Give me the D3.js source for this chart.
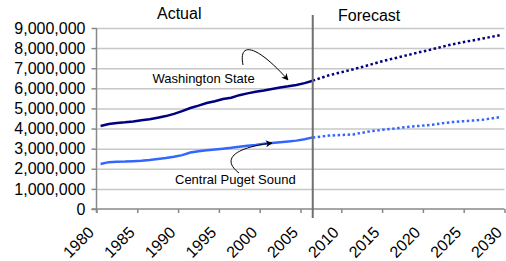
<!DOCTYPE html>
<html>
<head>
<meta charset="utf-8">
<script src="https://cdn.jsdelivr.net/npm/d3@7/dist/d3.min.js"></script>
<style>
body { margin: 0; background: #fff; }
svg { display: block; font-family: "Liberation Sans", Arial, sans-serif; }
</style>
</head>
<body>
<div id="chart-area"></div>
<script>
// Data (population)
var actualYears = [1980, 1981, 1982, 1983, 1984, 1985, 1986, 1987, 1988, 1989,
                   1990, 1991, 1992, 1993, 1994, 1995, 1996, 1997, 1998, 1999,
                   2000, 2001, 2002, 2003, 2004, 2005, 2006];
var forecastYears = [2006, 2007, 2008, 2009, 2010, 2011, 2012, 2013, 2014, 2015,
                     2016, 2017, 2018, 2019, 2020, 2021, 2022, 2023, 2024, 2025,
                     2026, 2027, 2028, 2029];

var waActual = [4130000, 4230000, 4280000, 4310000, 4350000, 4410000, 4460000, 4540000, 4620000, 4730000,
                4870000, 5020000, 5140000, 5270000, 5360000, 5470000, 5530000, 5660000, 5750000, 5830000,
                5890000, 5970000, 6040000, 6100000, 6170000, 6260000, 6380000];
var waForecast = [6380000, 6520000, 6650000, 6750000, 6850000, 6950000, 7060000, 7170000, 7290000, 7400000,
                  7490000, 7590000, 7690000, 7790000, 7880000, 7980000, 8080000, 8180000, 8260000, 8340000,
                  8410000, 8490000, 8570000, 8650000];

var cpsActual = [2240000, 2330000, 2350000, 2360000, 2380000, 2400000, 2440000, 2490000, 2540000, 2600000,
                 2680000, 2810000, 2870000, 2920000, 2960000, 3000000, 3040000, 3090000, 3140000, 3180000,
                 3240000, 3280000, 3320000, 3360000, 3400000, 3470000, 3560000];
var cpsForecast = [3560000, 3600000, 3650000, 3670000, 3690000, 3710000, 3790000, 3860000, 3910000, 3960000,
                   4000000, 4050000, 4090000, 4130000, 4170000, 4210000, 4270000, 4320000, 4350000, 4380000,
                   4410000, 4450000, 4510000, 4570000];

var yTicks = [0, 1000000, 2000000, 3000000, 4000000, 5000000, 6000000, 7000000, 8000000, 9000000];
var xTicks = [1980, 1985, 1990, 1995, 2000, 2005, 2010, 2015, 2020, 2025, 2030];

var margin = { left: 96.5, right: 1.5, top: 28, bottom: 52 };
var width = 506 - margin.left - margin.right;
var height = 261 - margin.top - margin.bottom;

var svg = d3.select("#chart-area")
    .append("svg")
        .attr("width", 506)
        .attr("height", 261);

var defs = svg.append("defs");
defs.append("marker")
    .attr("id", "arrow")
    .attr("viewBox", "0 0 10 10")
    .attr("refX", 9)
    .attr("refY", 5)
    .attr("markerWidth", 7)
    .attr("markerHeight", 7)
    .attr("markerUnits", "userSpaceOnUse")
    .attr("orient", "auto")
  .append("path")
    .attr("d", "M0,0 L10,5 L0,10 L3,5 Z")
    .attr("fill", "#000");

var g = svg.append("g")
    .attr("transform", "translate(" + margin.left + "," + margin.top + ")");

// Scales (categories sit between tick marks, like the original)
var x = d3.scaleLinear().domain([1980, 2030]).range([0, width]);
var y = d3.scaleLinear().domain([0, 9000000]).range([height, 0]);
function cx(year) { return x(year + 0.5); }

// Gridlines
var grid = g.append("g")
    .call(d3.axisLeft(y).tickValues(yTicks.slice(1)).tickSize(-width).tickFormat(""));
grid.select(".domain").remove();
grid.selectAll("line").attr("stroke", "#c8c8c8").attr("stroke-width", 1.5);

// Y axis
var yAxis = g.append("g")
    .call(d3.axisLeft(y).tickValues(yTicks).tickSize(5).tickPadding(6).tickFormat(d3.format(",")));
yAxis.select(".domain").remove();
yAxis.selectAll("line").attr("stroke", "#888").attr("stroke-width", 1.5);
yAxis.selectAll("text")
    .attr("font-size", "16px")
    .attr("font-family", "Liberation Sans, Arial, sans-serif")
    .attr("fill", "#000");

// X axis
var xAxis = g.append("g")
    .attr("transform", "translate(0," + height + ")")
    .call(d3.axisBottom(x).tickValues(xTicks).tickSize(4).tickFormat(d3.format("d")));
xAxis.select(".domain").remove();
xAxis.selectAll("line").attr("stroke", "#888").attr("stroke-width", 1.5);
xAxis.selectAll("text")
    .attr("y", 0)
    .attr("dy", 0)
    .attr("font-size", "16px")
    .attr("font-family", "Liberation Sans, Arial, sans-serif")
    .attr("fill", "#000")
    .style("text-anchor", "end")
    .attr("transform", "translate(-2,24.5) rotate(-45)");

// Axis lines
g.append("line")
    .attr("x1", 0).attr("x2", 0)
    .attr("y1", y(9000000)).attr("y2", height + 4)
    .attr("stroke", "#888").attr("stroke-width", 1.5);
g.append("line")
    .attr("x1", -5).attr("x2", width)
    .attr("y1", height).attr("y2", height)
    .attr("stroke", "#888").attr("stroke-width", 1.5);

// Lines
var line = d3.line()
    .x(function(d) { return cx(d.year); })
    .y(function(d) { return y(d.value); });

function pairs(years, values) {
    return years.map(function(yr, i) { return { year: yr, value: values[i] }; });
}

var series = [
    { data: pairs(actualYears, waActual), color: "#000080", dash: null },
    { data: pairs(forecastYears, waForecast), color: "#000080", dash: "2.5,2.5" },
    { data: pairs(actualYears, cpsActual), color: "#3366ff", dash: null },
    { data: pairs(forecastYears, cpsForecast), color: "#3366ff", dash: "2.5,2.5" }
];

series.forEach(function(s) {
    g.append("path")
        .datum(s.data)
        .attr("fill", "none")
        .attr("stroke", s.color)
        .attr("stroke-width", 2.5)
        .attr("stroke-dasharray", s.dash)
        .attr("d", line);
});

// Actual / forecast divider
var divX = cx(actualYears[actualYears.length - 1]);
g.append("line")
    .attr("x1", divX).attr("x2", divX)
    .attr("y1", -13).attr("y2", height + 9)
    .attr("stroke", "#707070")
    .attr("stroke-width", 2);

// Labels
svg.append("text")
    .attr("x", 157).attr("y", 18.5)
    .attr("font-size", "16px")
    .text("Actual");
svg.append("text")
    .attr("x", 338).attr("y", 20.5)
    .attr("font-size", "16px")
    .text("Forecast");

svg.append("text")
    .attr("x", 152.5).attr("y", 83)
    .attr("font-size", "13px")
    .text("Washington State");
svg.append("text")
    .attr("x", 175).attr("y", 184.3)
    .attr("font-size", "13px")
    .text("Central Puget Sound");

// Callout arrows
svg.append("path")
    .attr("d", "M243,65 C238,40 258,46 288,80")
    .attr("fill", "none")
    .attr("stroke", "#000")
    .attr("stroke-width", 1)
    .attr("marker-end", "url(#arrow)");
svg.append("path")
    .attr("d", "M239,173 C222,160 232,148 272,143")
    .attr("fill", "none")
    .attr("stroke", "#000")
    .attr("stroke-width", 1)
    .attr("marker-end", "url(#arrow)");
</script>
</body>
</html>
